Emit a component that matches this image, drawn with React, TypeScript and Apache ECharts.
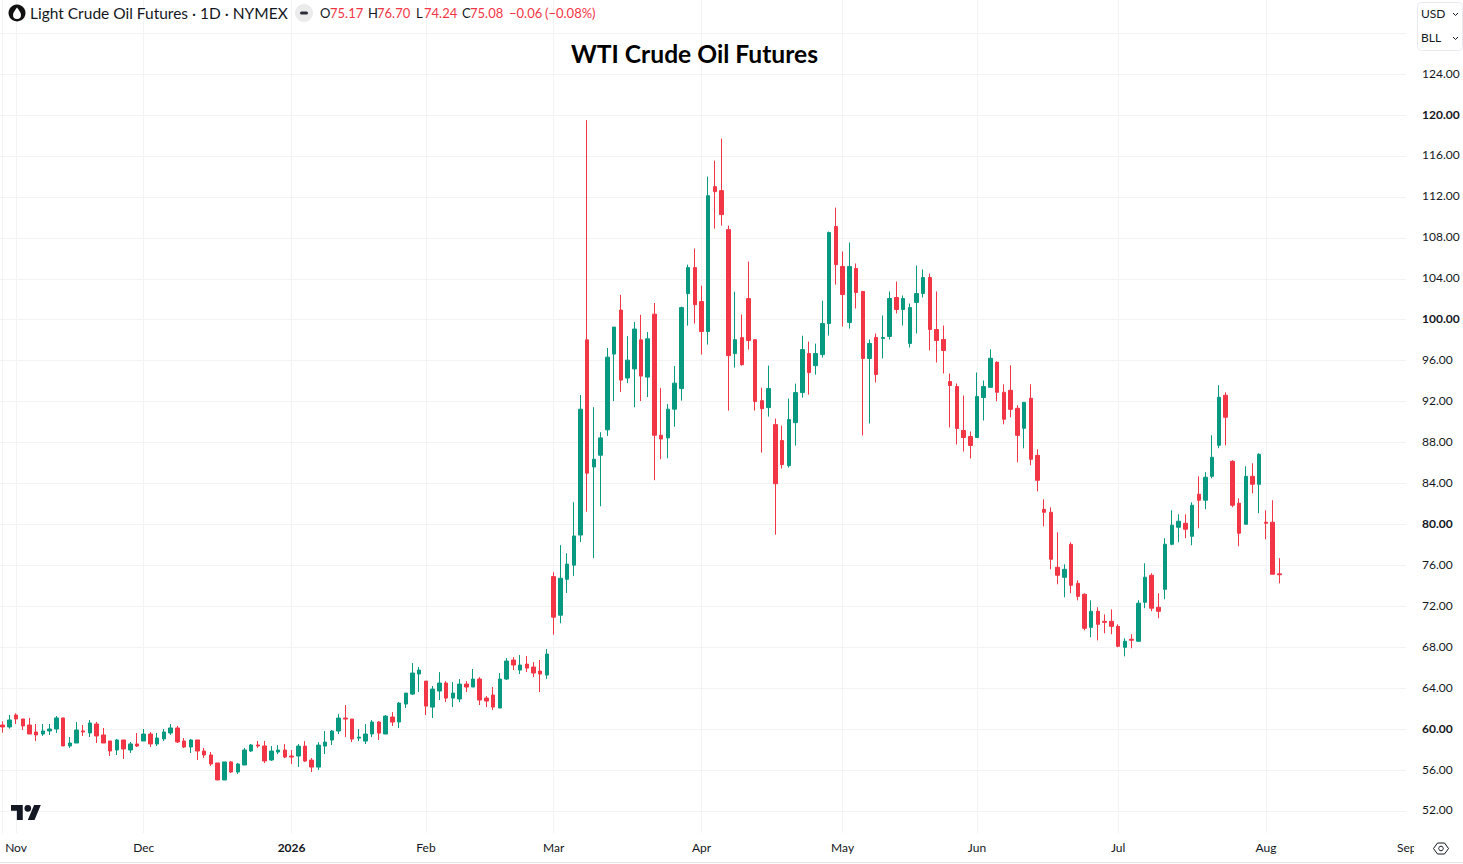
import React, { useEffect, useRef } from "react";
import * as echarts from "echarts";

const opens = [
  60.40,60.21,61.38,60.99,60.40,59.72,59.52,59.82,60.01,61.09,
  58.35,58.64,59.82,59.62,60.50,59.43,58.84,57.96,58.94,57.96,
  58.55,58.84,59.52,58.55,59.04,59.62,60.11,58.84,58.25,58.94,
  57.86,57.47,56.69,55.03,56.79,55.81,56.49,57.86,58.45,58.35,
  56.98,57.76,57.95,57.37,57.37,58.34,56.97,56.29,58.34,58.93,
  59.81,61.08,60.98,59.12,58.83,59.52,60.69,59.52,61.18,60.69,
  62.45,63.42,65.38,64.69,62.15,63.72,64.50,63.03,62.94,64.40,
  64.11,64.89,63.03,63.33,62.06,64.89,66.75,65.77,66.35,66.06,
  65.67,65.28,74.90,71.13,74.64,76.02,78.96,98.03,85.61,86.76,
  89.24,96.64,100.94,94.30,95.19,98.03,94.39,100.54,88.71,88.45,
  91.26,93.27,102.55,105.09,101.77,98.84,113.00,112.61,108.80,96.69,
  98.25,102.06,98.05,92.09,91.41,89.75,88.19,85.74,89.94,92.88,
  96.69,95.51,96.59,99.62,109.10,105.20,99.73,105.00,102.76,96.21,
  98.26,98.16,98.36,102.17,101.00,97.68,101.68,102.56,104.12,99.04,
  98.07,93.96,93.47,89.17,88.59,88.49,92.40,93.39,95.84,92.91,
  93.10,91.34,89.39,92.32,86.75,81.47,81.18,75.81,74.83,78.05,
  74.24,73.17,69.94,71.51,70.53,70.53,70.04,67.99,68.78,68.58,
  72.39,75.03,71.90,73.66,78.06,79.72,80.11,78.84,82.95,82.36,
  84.70,87.73,92.62,86.17,82.07,80.01,84.70,83.92,80.21,80.21,
  75.17,
];
const closes = [
  60.21,60.89,60.99,60.31,59.52,59.43,59.82,60.01,61.09,58.35,
  58.64,59.91,59.72,60.60,59.33,58.64,57.86,58.94,58.06,58.55,
  58.35,59.52,58.55,59.13,59.72,60.11,58.74,58.25,58.94,57.86,
  57.47,56.59,55.03,56.79,55.81,56.59,57.96,58.45,58.35,56.89,
  57.86,57.95,57.27,57.27,58.34,56.88,56.29,58.44,58.73,59.81,
  61.08,60.98,59.03,59.22,59.52,60.69,59.61,61.27,60.69,62.54,
  63.52,65.48,65.77,62.25,63.91,64.50,63.03,63.52,64.40,64.11,
  64.89,62.84,62.74,62.15,64.89,66.65,66.26,66.26,65.96,65.48,
  65.38,67.33,70.94,74.74,76.12,78.87,91.26,85.01,86.37,88.45,
  96.34,99.28,94.10,96.05,99.09,94.49,98.13,88.71,88.35,91.26,
  93.80,101.18,105.09,101.47,98.84,112.12,112.51,110.27,96.49,98.05,
  95.61,97.96,92.00,91.31,93.27,83.98,85.84,90.24,92.88,97.08,
  94.83,96.69,99.62,108.51,105.38,102.46,105.20,102.66,96.21,97.68,
  94.65,98.26,102.07,101.00,102.07,101.19,102.56,104.12,99.04,97.97,
  96.99,93.57,89.37,88.49,87.71,92.50,93.47,96.23,92.91,90.27,
  91.24,88.70,91.93,86.36,84.31,81.18,76.59,75.03,75.61,74.05,
  72.97,69.85,71.51,70.24,70.43,70.04,68.09,68.58,68.68,72.30,
  74.84,71.81,71.51,78.06,79.92,80.31,79.53,81.87,82.36,84.61,
  86.56,92.42,90.47,81.87,79.14,84.70,83.92,86.85,80.11,75.13,
  75.08,
];
const lows = [
  59.65,60.04,60.50,59.91,59.52,58.84,59.33,59.43,59.62,58.35,
  58.16,58.64,59.33,59.23,58.64,58.64,57.37,57.47,57.08,57.67,
  58.25,58.84,58.25,58.35,58.84,59.43,58.64,58.16,57.67,56.98,
  57.18,56.40,55.03,55.03,55.71,55.62,56.49,57.76,58.16,56.69,
  56.89,57.56,57.17,56.58,56.29,56.78,55.80,56.00,57.56,58.44,
  59.52,59.22,58.73,58.83,58.54,59.22,58.93,59.52,60.30,60.10,
  62.06,63.33,63.62,61.37,61.08,62.84,62.64,62.15,62.64,63.62,
  64.11,62.35,62.15,61.86,62.06,64.79,65.77,65.38,65.57,65.08,
  63.62,64.89,69.22,70.34,73.31,74.97,78.27,81.24,76.72,81.77,
  88.65,92.05,92.94,93.80,91.45,92.05,92.44,84.32,86.37,86.46,
  89.54,92.09,99.42,99.62,96.59,97.57,108.90,109.19,91.12,95.32,
  95.51,97.08,91.12,87.01,90.53,79.00,85.45,85.55,87.70,92.39,
  92.68,94.63,96.30,98.44,103.43,99.34,99.14,101.10,88.69,89.86,
  93.86,96.21,98.07,100.61,99.43,97.28,98.65,102.17,96.99,95.82,
  94.74,89.47,87.81,87.12,86.44,88.49,90.15,93.39,92.03,89.78,
  90.46,86.07,87.43,85.77,83.23,79.81,75.61,74.15,72.88,73.27,
  72.58,69.65,68.97,68.67,69.36,69.26,67.99,67.11,67.90,68.58,
  71.81,71.51,70.83,72.69,77.96,78.26,78.65,77.96,79.62,81.48,
  84.51,87.44,87.73,81.68,77.86,80.01,83.04,81.09,78.55,75.13,
  74.24,
];
const highs = [
  60.76,61.38,61.54,60.99,61.09,60.50,60.50,60.50,61.28,61.09,
  59.23,60.70,60.40,60.89,60.70,60.11,58.84,59.04,58.94,58.74,
  59.62,60.01,59.72,59.62,60.01,60.50,60.31,59.13,59.04,58.94,
  58.16,57.76,56.69,56.79,56.89,56.69,58.16,58.55,58.84,58.84,
  58.35,58.44,58.54,57.95,58.54,58.83,57.17,58.73,59.81,59.91,
  61.47,62.35,60.98,60.00,60.49,60.88,60.79,61.37,61.66,62.64,
  63.52,66.45,66.06,64.69,64.21,65.57,64.69,64.60,64.89,64.69,
  65.87,65.08,63.23,64.11,65.48,66.94,67.04,67.23,67.14,66.55,
  66.75,67.82,75.33,77.97,77.18,82.17,92.64,119.50,91.45,89.01,
  97.24,99.28,102.42,98.39,99.78,100.47,98.79,101.63,93.34,91.75,
  95.48,101.28,105.38,106.95,103.33,113.98,115.54,117.69,109.19,102.74,
  100.50,105.68,98.05,93.36,95.51,90.34,89.65,92.29,93.75,98.44,
  97.86,97.66,101.86,108.61,110.95,106.66,107.54,105.49,102.76,98.07,
  98.65,100.41,102.76,103.73,102.37,101.58,105.30,104.91,104.51,102.76,
  99.43,94.74,93.77,92.59,89.08,94.84,94.06,97.11,95.93,93.69,
  95.54,91.64,91.93,93.69,87.34,82.45,81.67,79.23,76.10,78.25,
  74.54,73.27,72.58,71.90,71.21,71.70,70.24,68.87,69.27,72.59,
  76.20,75.23,73.27,78.65,81.38,80.99,80.99,82.16,84.70,85.10,
  88.71,93.60,92.91,86.27,82.55,85.68,85.97,86.95,81.38,82.36,
  76.70,
];

const monthBars = [2, 21, 43, 63, 82, 104, 125, 145, 166, 188];
const monthLabels = ["Nov", "Dec", "2026", "Feb", "Mar", "Apr", "May", "Jun", "Jul", "Aug"];
const priceLabels = [52,56,60,64,68,72,76,80,84,88,92,96,100,104,108,112,116,120,124];
const gridPrices = [...priceLabels, 128];

const UP = "#089981";
const DOWN = "#F23645";
const INK = "#131722";
const GRID = "#f2f3f5";
const FONT = "'Lato', 'Noto Sans', sans-serif";

echarts.graphic.registerShape(
  "tvLogo",
  echarts.graphic.extendPath("M14 22H7V11H0V4h14v18zM28 22h-8l7.5-18h8L28 22zM24 8a4 4 0 1 1-8 0a4 4 0 1 1 8 0z", {})
);
echarts.graphic.registerShape(
  "oilDrop",
  echarts.graphic.extendPath("M0 -6C1.6 -3.4 4 -1.4 4 1.6A4 4 0 1 1 -4 1.6C-4 -1.4 -1.6 -3.4 0 -6Z", {})
);

const headerText = (x: number, text: string, fill: string, size = 13) => ({
  type: "text",
  x,
  y: 13,
  z: 20,
  style: { text, fill, fontSize: size, fontFamily: FONT, verticalAlign: "middle" },
});
const chevron = (y: number) => ({
  type: "polyline",
  z: 21,
  shape: { points: [[1453, y - 1], [1455.5, y + 1.5], [1458, y - 1]] },
  style: { stroke: INK, lineWidth: 1, fill: "none" },
});

export default function App() {
  const ref = useRef<HTMLDivElement>(null);
  useEffect(() => {
    document.body.style.margin = "0";
    const chart = echarts.init(ref.current!, null, { renderer: "svg" });
    chart.setOption({
      animation: false,
      backgroundColor: "#ffffff",
      title: {
        text: "WTI Crude Oil Futures",
        left: 571,
        top: 41,
        padding: 0,
        textStyle: { fontSize: 24.6, fontWeight: "bold", color: "#000000", fontFamily: FONT },
      },
      grid: { left: 0, top: 0, width: 1406, height: 833 },
      xAxis: {
        type: "value",
        min: -0.386,
        max: 208.84,
        axisLine: { show: false },
        axisTick: { show: false, customValues: monthBars },
        splitLine: { show: true, lineStyle: { color: GRID, width: 1 } },
        axisLabel: {
          customValues: monthBars,
          margin: 8,
          color: INK,
          fontSize: 12,
          fontFamily: FONT,
          formatter: (v: number) => {
            const l = monthLabels[monthBars.indexOf(v)] ?? "";
            return /^\d+$/.test(l) ? `{b|${l}}` : l;
          },
          rich: { b: { fontWeight: "bold", fontSize: 12, color: INK, fontFamily: FONT } },
        },
      },
      yAxis: {
        type: "value",
        position: "right",
        min: 49.849,
        max: 131.236,
        axisLine: { show: true, lineStyle: { color: GRID } },
        axisTick: { show: true, length: 6, lineStyle: { color: GRID }, customValues: gridPrices },
        splitLine: { show: true, lineStyle: { color: GRID, width: 1 } },
        axisLabel: {
          customValues: priceLabels,
          margin: 16,
          padding: [0, 0, 2, 0],
          color: INK,
          fontSize: 12,
          fontFamily: FONT,
          formatter: (v: number) => (v % 20 === 0 ? `{b|${v.toFixed(2)}}` : v.toFixed(2)),
          rich: { b: { fontWeight: "bold", fontSize: 12, color: INK, fontFamily: FONT } },
        },
      },
      series: [
        {
          type: "candlestick",
          barWidth: 4,
          data: opens.map((o, i) => [i, o, closes[i], lows[i], highs[i]]),
          itemStyle: { color: UP, color0: DOWN, borderColor: UP, borderColor0: DOWN, borderWidth: 1 },
        },
      ],
      graphic: [
        { type: "circle", z: 20, shape: { cx: 17, cy: 13, r: 8.5 }, style: { fill: "#111111" } },
        { type: "oilDrop", z: 21, x: 17, y: 13.5, style: { fill: "#ffffff" } },
        headerText(30, "Light Crude Oil Futures · 1D · NYMEX", INK, 15.5),
        { type: "circle", z: 20, shape: { cx: 304, cy: 13, r: 9 }, style: { fill: "#ebebeb" } },
        { type: "rect", z: 21, shape: { x: 300, y: 11.5, width: 8, height: 3, r: 1.5 }, style: { fill: "#2a2e39" } },
        headerText(320, "O", INK),
        headerText(330, "75.17", DOWN),
        headerText(368, "H", INK),
        headerText(377, "76.70", DOWN),
        headerText(416, "L", INK),
        headerText(424, "74.24", DOWN),
        headerText(462, "C", INK),
        headerText(470, "75.08", DOWN),
        headerText(509, "−0.06", DOWN),
        headerText(545, "(−0.08%)", DOWN),
        { type: "rect", z: 20, shape: { x: 1417.5, y: 2.5, width: 45, height: 48, r: 4 }, style: { fill: "#ffffff", stroke: "#e8eaef", lineWidth: 1 } },
        { type: "text", z: 21, x: 1421, y: 13, style: { text: "USD", fill: INK, fontSize: 12, fontFamily: FONT, verticalAlign: "middle" } },
        { type: "text", z: 21, x: 1421, y: 37, style: { text: "BLL", fill: INK, fontSize: 12, fontFamily: FONT, verticalAlign: "middle" } },
        chevron(14),
        chevron(38),
        { type: "tvLogo", z: 20, x: 11, y: 801.6, scaleX: 0.84, scaleY: 0.84, style: { fill: "#131722" } },
        { type: "text", z: 20, x: 1397, y: 847, style: { text: "Sep", fill: INK, fontSize: 12, fontFamily: FONT, verticalAlign: "middle" } },
        { type: "rect", z: 21, shape: { x: 1414, y: 836, width: 49, height: 25 }, style: { fill: "#ffffff" } },
        {
          type: "polygon",
          z: 22,
          shape: { points: [[1433.5, 848.5], [1437.5, 843], [1444.5, 843], [1448.5, 848.5], [1444.5, 854], [1437.5, 854]] },
          style: { fill: "none", stroke: INK, lineWidth: 1 },
        },
        { type: "circle", z: 22, shape: { cx: 1441, cy: 848.5, r: 2.3 }, style: { fill: "none", stroke: INK, lineWidth: 1 } },
        { type: "line", z: 20, shape: { x1: 0, y1: 862.5, x2: 1463, y2: 862.5 }, style: { stroke: "#e0e3eb", lineWidth: 1 } },
      ],
    });
    return () => chart.dispose();
  }, []);
  return <div ref={ref} style={{ position: "fixed", left: 0, top: 0, width: 1463, height: 864 }} />;
}
